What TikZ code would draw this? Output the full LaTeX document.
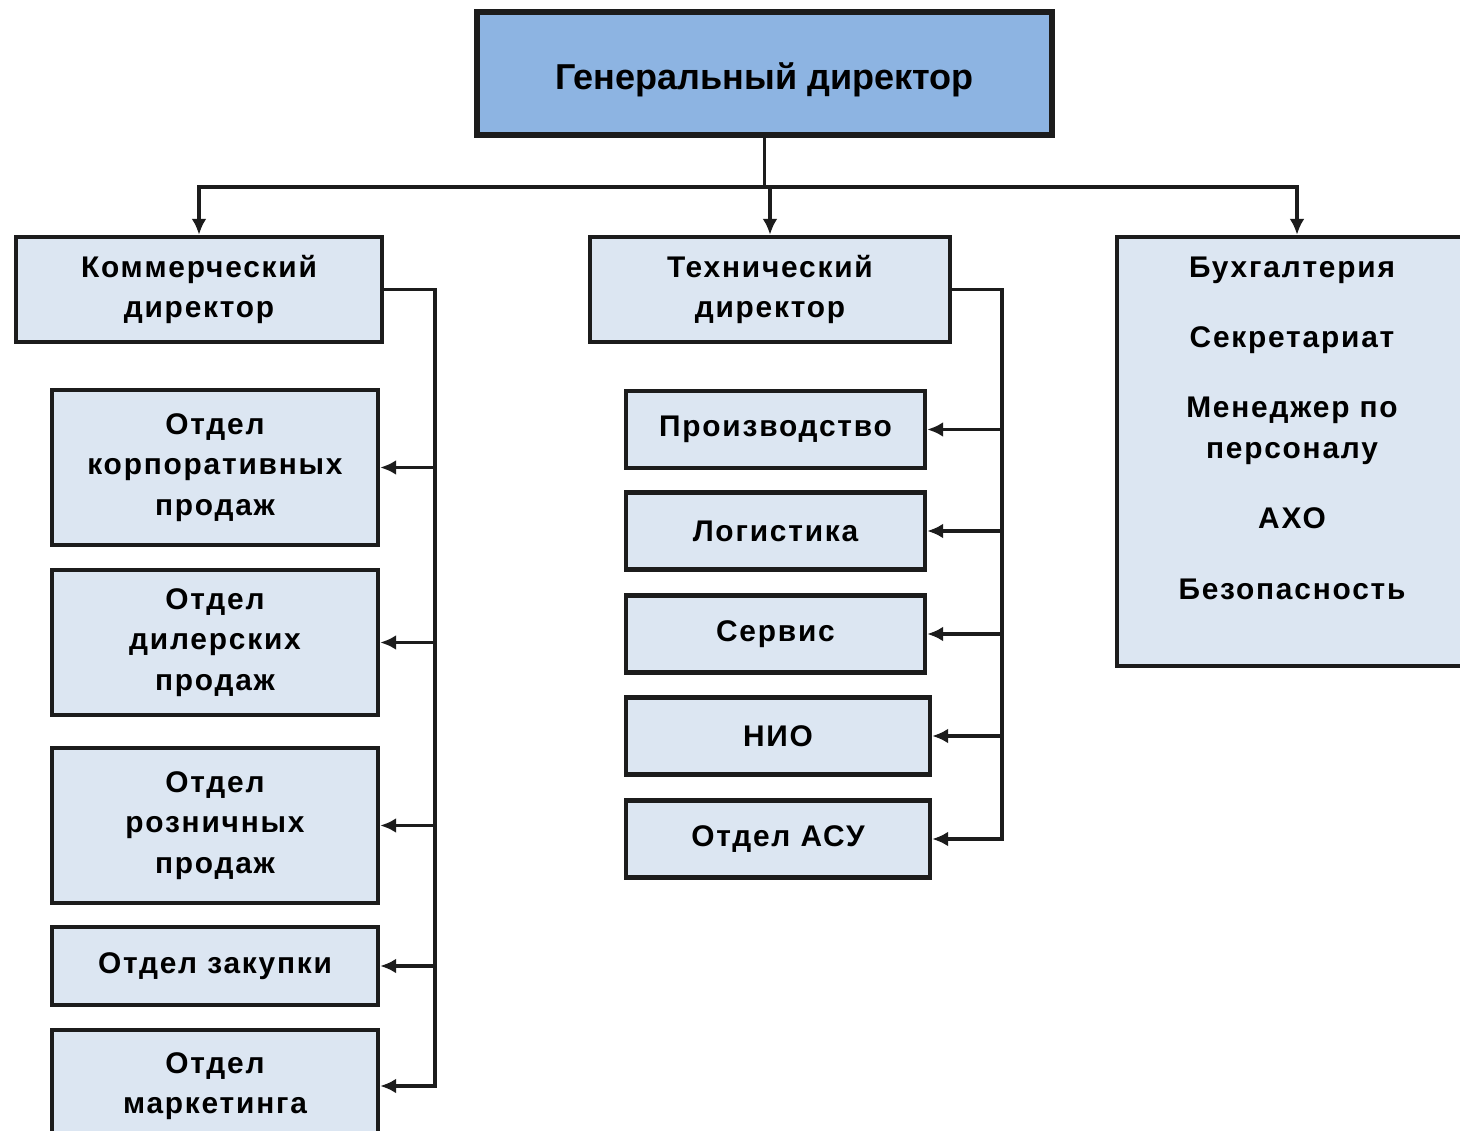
\documentclass[tikz,border=0pt]{standalone}
\usepackage{fontspec}
\setmainfont{Liberation Sans}
\newfontfamily\spacedsans[LetterSpace=6]{Liberation Sans}
\usetikzlibrary{arrows.meta,positioning}
\definecolor{headblue}{HTML}{8DB4E2}
\definecolor{unitblue}{HTML}{DCE6F2}
\definecolor{edgegray}{HTML}{1C1C1C}

\tikzset{
  unit/.style={draw=edgegray,line width=0.9mm,fill=unitblue,align=center,
    inner sep=0pt,font=\spacedsans\bfseries\fontsize{17}{23}\selectfont},
  link/.style={draw=edgegray,line width=0.75mm,line join=miter,-{Latex[length=3.2mm,width=3mm]}},
  plain/.style={draw=edgegray,line width=0.75mm,line join=miter},
}

\begin{document}
\begin{tikzpicture}[x=0.02cm,y=-0.02cm]
\useasboundingbox[fill=white] (0,0) rectangle (1460,1131);

%top level
\node[unit,fill=headblue,line width=1.2mm,minimum width=115mm,minimum height=24.6mm,
  font=\bfseries\fontsize{20.5}{24}\selectfont] (gd) at (764.5,73.5) {\raisebox{-3.2mm}[0pt][0pt]{Генеральный директор}};

%directors
\node[unit,minimum width=73.2mm,minimum height=21mm] (comm) at (199,289.5) {Коммерческий\\директор};
\node[unit,minimum width=72mm,minimum height=21mm] (tech) at (770,289.5) {Технический\\директор};
\node[unit,minimum width=72mm,minimum height=85.8mm] (staff) at (1297,451.5) {};
\node[align=center,font=\spacedsans\bfseries\fontsize{17}{23}\selectfont] (stafflist) at (1292,428)
  {Бухгалтерия\\[6mm] Секретариат\\[6mm] Менеджер по\\персоналу\\[6mm] АХО\\[6mm] Безопасность};

%commercial units
\node[unit,minimum width=65.2mm,minimum height=31mm] (korp) at (215,467.5) {Отдел\\корпоративных\\продаж};
\node[unit,minimum width=65.2mm,minimum height=29mm] (diler) at (215,642.5) {Отдел\\дилерских\\продаж};
\node[unit,minimum width=65.2mm,minimum height=31mm] (rozn) at (215,825.5) {Отдел\\розничных\\продаж};
\node[unit,minimum width=65.2mm,minimum height=15.6mm] (zak) at (215,966) {Отдел закупки};
\node[unit,minimum width=65.2mm,minimum height=22.4mm] (mark) at (215,1086) {Отдел\\маркетинга};

%technical units
\node[unit,minimum width=59.8mm,minimum height=15.4mm] (proizv) at (775.5,429.5) {Производство};
\node[unit,minimum width=59.8mm,minimum height=15.4mm] (logist) at (775.5,531) {Логистика};
\node[unit,minimum width=59.8mm,minimum height=15.4mm] (serv) at (775.5,634) {Сервис};
\node[unit,minimum width=60.8mm,minimum height=15.4mm] (nio) at (778,736) {НИО};
\node[unit,minimum width=60.8mm,minimum height=15.4mm] (asu) at (778,839) {Отдел АСУ};

%connectors
\coordinate (bus) at (764.5,187);
\coordinate (cbus) at (435,289.5);
\coordinate (tbus) at (1002,289.5);
\draw[plain] (gd.south) -- (bus);
\draw[link] (bus) -| (comm.north);
\draw[link] (bus) -| (tech.north);
\draw[link] (bus) -| (staff.north);

\draw[link] (comm.east) -- (cbus) |- (mark.east);
\foreach \n in {korp,diler,rozn,zak}
  \draw[link] (cbus |- \n.east) -- (\n.east);

\draw[link] (tech.east) -- (tbus) |- (asu.east);
\foreach \n in {proizv,logist,serv,nio}
  \draw[link] (tbus |- \n.east) -- (\n.east);
\end{tikzpicture}
\end{document}
